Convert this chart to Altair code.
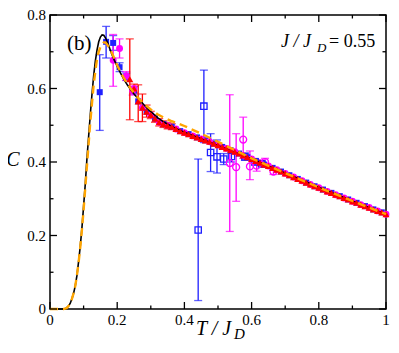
import altair as alt
import pandas as pd

# ---------------- data ----------------
curve_T = [0.0, 0.04, 0.045, 0.05, 0.055, 0.06, 0.065, 0.07, 0.075, 0.08, 0.085, 0.09,
           0.095, 0.10, 0.105, 0.11, 0.115, 0.12, 0.125, 0.13, 0.135, 0.14, 0.145, 0.15,
           0.155, 0.16, 0.165, 0.17, 0.175, 0.18, 0.19, 0.20, 0.21, 0.22, 0.23, 0.24,
           0.25, 0.26, 0.27, 0.28, 0.30, 0.32, 0.34, 0.36, 0.38, 0.40, 0.45, 0.50,
           0.60, 0.70, 0.80, 0.90, 1.00]
black_C = [0.0, 0.0, 0.001, 0.003, 0.008, 0.015, 0.027, 0.042, 0.062, 0.09, 0.128, 0.17,
           0.22, 0.28, 0.34, 0.41, 0.47, 0.53, 0.585, 0.635, 0.675, 0.705, 0.727, 0.74,
           0.746, 0.745, 0.738, 0.728, 0.716, 0.703, 0.68, 0.66, 0.642, 0.625, 0.61, 0.597,
           0.585, 0.575, 0.565, 0.555, 0.537, 0.521, 0.508, 0.498, 0.489, 0.481, 0.463, 0.445,
           0.408, 0.370, 0.331, 0.294, 0.258]
orange_C = [0.0, 0.0, 0.001, 0.003, 0.008, 0.015, 0.027, 0.042, 0.062, 0.09, 0.126, 0.167,
            0.215, 0.27, 0.33, 0.39, 0.45, 0.51, 0.56, 0.61, 0.648, 0.68, 0.70, 0.713,
            0.72, 0.725, 0.725, 0.72, 0.713, 0.705, 0.685, 0.663, 0.645, 0.628, 0.613, 0.60,
            0.588, 0.577, 0.567, 0.558, 0.543, 0.530, 0.520, 0.512, 0.505, 0.498, 0.477, 0.455,
            0.410, 0.370, 0.331, 0.294, 0.258]

red_T = [0.2375, 0.25, 0.2625, 0.275, 0.2875, 0.30, 0.3125, 0.325, 0.3375, 0.35, 0.3625,
         0.375, 0.3875, 0.40, 0.4125, 0.425, 0.4375, 0.45, 0.4625, 0.475, 0.4875, 0.50,
         0.5125, 0.525, 0.5375, 0.55, 0.5625, 0.575, 0.5875, 0.60, 0.6125, 0.625, 0.6375,
         0.65, 0.6625, 0.675, 0.6875, 0.70, 0.7125, 0.725, 0.7375, 0.75, 0.7625, 0.775,
         0.7875, 0.80, 0.8125, 0.825, 0.8375, 0.85, 0.8625, 0.875, 0.8875, 0.90, 0.9125,
         0.925, 0.9375, 0.95, 0.9625, 0.975, 0.9875, 1.00]
red_C = [0.625, 0.600, 0.565, 0.548, 0.537, 0.528, 0.518, 0.508, 0.503, 0.499, 0.496,
         0.490, 0.484, 0.480, 0.476, 0.471, 0.467, 0.463, 0.459, 0.455, 0.450, 0.446,
         0.441, 0.437, 0.432, 0.428, 0.423, 0.418, 0.413, 0.408, 0.403, 0.398, 0.393,
         0.389, 0.384, 0.379, 0.374, 0.369, 0.364, 0.359, 0.354, 0.349, 0.344, 0.339,
         0.334, 0.330, 0.325, 0.320, 0.316, 0.311, 0.307, 0.302, 0.298, 0.293, 0.289,
         0.284, 0.280, 0.276, 0.271, 0.267, 0.263, 0.258]
red_eb_T = [0.2375, 0.25, 0.2625, 0.275, 0.2875, 0.30, 0.3125, 0.325, 0.3375, 0.35, 0.3625]
red_eb_lo = [0.515, 0.588, 0.510, 0.510, 0.522, 0.518, 0.508, 0.498, 0.494, 0.490, 0.488]
red_eb_hi = [0.735, 0.612, 0.610, 0.585, 0.555, 0.538, 0.528, 0.518, 0.512, 0.508, 0.504]

blue_head_T = [0.148, 0.167, 0.188, 0.207, 0.227, 0.25]
blue_head_C = [0.590, 0.727, 0.724, 0.658, 0.632, 0.595]
blue_head_lo = [0.486, 0.683, 0.704, 0.646, 0.622, 0.585]
blue_head_hi = [0.692, 0.769, 0.744, 0.670, 0.642, 0.605]

mag_head_T = [0.188, 0.207, 0.227, 0.246]
mag_head_C = [0.677, 0.709, 0.634, 0.594]
mag_head_lo = [0.606, 0.683, 0.622, 0.582]
mag_head_hi = [0.747, 0.735, 0.646, 0.606]

bopen_T = [0.441, 0.458, 0.478, 0.497, 0.517, 0.54, 0.58, 0.61, 0.63]
bopen_C = [0.215, 0.552, 0.426, 0.414, 0.408, 0.415, 0.414, 0.400, 0.395]
bopen_lo = [0.023, 0.453, 0.374, 0.370, 0.393, 0.400, 0.405, 0.392, 0.388]
bopen_hi = [0.408, 0.650, 0.477, 0.460, 0.423, 0.430, 0.425, 0.408, 0.402]

mopen_T = [0.535, 0.554, 0.575, 0.595, 0.615, 0.64, 0.665]
mopen_C = [0.397, 0.386, 0.461, 0.388, 0.390, 0.400, 0.374]
mopen_lo = [0.211, 0.293, 0.410, 0.352, 0.375, 0.390, 0.366]
mopen_hi = [0.583, 0.477, 0.522, 0.430, 0.405, 0.410, 0.382]

x_major = [0, 0.2, 0.4, 0.6, 0.8, 1.0]
x_major_labels = ["0", "0.2", "0.4", "0.6", "0.8", "1"]
x_minor = [0.1, 0.3, 0.5, 0.7, 0.9]
y_major = [0, 0.2, 0.4, 0.6, 0.8]
y_major_labels = ["0", "0.2", "0.4", "0.6", "0.8"]
y_minor = [0.1, 0.3, 0.5, 0.7]

panel_label = ["(b)"]
param_texts = ["J / J", "D", "= 0.55"]
xtitle_texts = ["T / J", "D"]
ytitle_text = ["C"]

# ---------------- chart ----------------
W, H = 336, 294
X0, X1, Y0, Y1 = 0.0, 1.0, 0.0, 0.8
FONT = "Liberation Serif"
BLUE = "#1f1fff"
MAG = "#ff00ff"
RED = "#ff0000"
ORANGE = "#ffa500"
MAJ, MIN = 7, 3.5

xs = alt.Scale(domain=[X0, X1], nice=False, zero=False)
ys = alt.Scale(domain=[Y0, Y1], nice=False, zero=False)


def X(field):
    return alt.X(field, type="quantitative", scale=xs, axis=None)


def Y(field):
    return alt.Y(field, type="quantitative", scale=ys, axis=None)


curve_df = pd.DataFrame({"T": curve_T, "black": black_C, "orange": orange_C})
red_df = pd.DataFrame({"T": red_T, "C": red_C})
red_eb = pd.DataFrame({"T": red_eb_T, "lo": red_eb_lo, "hi": red_eb_hi})
blue_df = pd.DataFrame({"T": blue_head_T + red_T[2::2], "C": blue_head_C + red_C[2::2]})
blue_eb = pd.DataFrame({"T": blue_head_T, "lo": blue_head_lo, "hi": blue_head_hi})
mag_df = pd.DataFrame({"T": mag_head_T + red_T[1::2], "C": mag_head_C + red_C[1::2]})
mag_eb = pd.DataFrame({"T": mag_head_T, "lo": mag_head_lo, "hi": mag_head_hi})
bopen_df = pd.DataFrame({"T": bopen_T, "C": bopen_C, "lo": bopen_lo, "hi": bopen_hi})
mopen_df = pd.DataFrame({"T": mopen_T, "C": mopen_C, "lo": mopen_lo, "hi": mopen_hi})


def errbars(df, color):
    rule = alt.Chart(df).mark_rule(color=color, strokeWidth=1.3).encode(
        x=X("T"), y=Y("lo"), y2="hi")
    cap_lo = alt.Chart(df).mark_tick(color=color, orient="horizontal", size=8, thickness=1.3).encode(
        x=X("T"), y=Y("lo"))
    cap_hi = alt.Chart(df).mark_tick(color=color, orient="horizontal", size=8, thickness=1.3).encode(
        x=X("T"), y=Y("hi"))
    return [rule, cap_lo, cap_hi]


layers = []
layers += errbars(blue_eb, BLUE)
layers += errbars(mag_eb, MAG)
layers += errbars(bopen_df, BLUE)
layers += errbars(mopen_df, MAG)
layers += errbars(red_eb, RED)

layers.append(alt.Chart(blue_df).mark_point(shape="square", filled=True, color=BLUE, size=36, opacity=1)
              .encode(x=X("T"), y=Y("C")))
layers.append(alt.Chart(mag_df).mark_point(shape="circle", filled=True, color=MAG, size=48, opacity=1)
              .encode(x=X("T"), y=Y("C")))
layers.append(alt.Chart(bopen_df).mark_point(shape="square", filled=False, color=BLUE, size=40,
                                             strokeWidth=1.3, opacity=1)
              .encode(x=X("T"), y=Y("C")))
layers.append(alt.Chart(mopen_df).mark_point(shape="circle", filled=False, color=MAG, size=48,
                                             strokeWidth=1.3, opacity=1)
              .encode(x=X("T"), y=Y("C")))
layers.append(alt.Chart(curve_df).mark_line(color="black", strokeWidth=1.6)
              .encode(x=X("T"), y=Y("black")))
layers.append(alt.Chart(red_df).mark_point(shape="triangle-up", filled=True, color=RED, size=50, opacity=1)
              .encode(x=X("T"), y=Y("C")))
layers.append(alt.Chart(curve_df).mark_line(color=ORANGE, strokeWidth=2.4, strokeDash=[8, 5])
              .encode(x=X("T"), y=Y("orange")))

# tick labels (positioned through the scales)
xl = pd.DataFrame({"v": x_major, "lab": x_major_labels})
layers.append(alt.Chart(xl).mark_text(font=FONT, fontSize=15, align="center", baseline="alphabetic",
                                      color="black")
              .encode(x=X("v"), y=alt.value(H + 16), text="lab:N"))
yl = pd.DataFrame({"yv": y_major, "lab": y_major_labels})
layers.append(alt.Chart(yl).mark_text(font=FONT, fontSize=15, align="right", baseline="middle",
                                      color="black")
              .encode(y=Y("yv"), x=alt.value(-4), text="lab:N"))

# inward frame ticks: rules whose both ends go through the scales
dy_per_px = (Y1 - Y0) / H
dx_per_px = (X1 - X0) / W
for vals, L in ((x_major, MAJ), (x_minor, MIN)):
    bot = pd.DataFrame({"a": vals, "b0": [Y0] * len(vals), "b1": [Y0 + L * dy_per_px] * len(vals)})
    top = pd.DataFrame({"a": vals, "b0": [Y1] * len(vals), "b1": [Y1 - L * dy_per_px] * len(vals)})
    for d in (bot, top):
        layers.append(alt.Chart(d).mark_rule(color="black", strokeWidth=1.3)
                      .encode(x=X("a"), y=Y("b0"), y2="b1"))
for vals, L in ((y_major, MAJ), (y_minor, MIN)):
    lef = pd.DataFrame({"a": vals, "b0": [X0] * len(vals), "b1": [X0 + L * dx_per_px] * len(vals)})
    rig = pd.DataFrame({"a": vals, "b0": [X1] * len(vals), "b1": [X1 - L * dx_per_px] * len(vals)})
    for d in (lef, rig):
        layers.append(alt.Chart(d).mark_rule(color="black", strokeWidth=1.3)
                      .encode(y=Y("a"), x=X("b0"), x2="b1"))


def txt(s, x, y, size, italic=False, align="left"):
    return alt.Chart(pd.DataFrame({"s": [s]})).mark_text(
        font=FONT, fontSize=size, fontStyle="italic" if italic else "normal",
        align=align, baseline="alphabetic", color="black").encode(
        text="s:N", x=alt.value(x), y=alt.value(y))


layers.append(txt(panel_label[0], 17, 35, 21))
layers.append(txt(param_texts[0], 231, 32, 18, italic=True))
layers.append(txt(param_texts[1], 267, 37, 13, italic=True))
layers.append(txt(param_texts[2], 279, 32, 18))
layers.append(txt(xtitle_texts[0], 146, 320, 20, italic=True))
layers.append(txt(xtitle_texts[1], 184, 324, 15, italic=True))
layers.append(txt(ytitle_text[0], -37, 151, 20, italic=True, align="center"))

chart = alt.layer(*layers).properties(
    width=W, height=H,
    autosize=alt.AutoSizeParams(type="none"),
    padding={"left": 42, "top": 7, "right": 5, "bottom": 32},
    background="white",
).configure_view(stroke="black", strokeWidth=1.5)

chart.save("out.html", embed_options={"renderer": "svg", "actions": False})
